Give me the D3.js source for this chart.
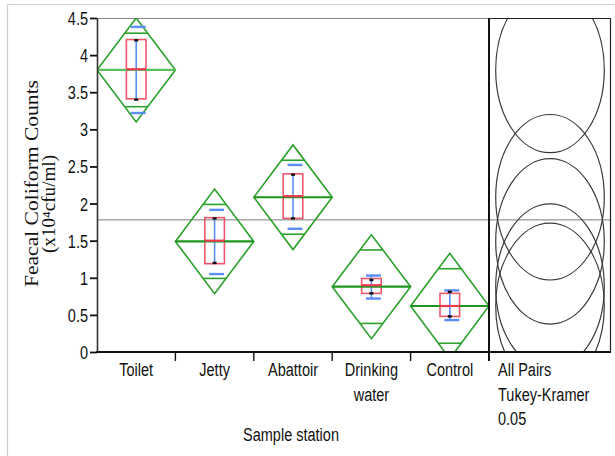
<!DOCTYPE html>
<html>
<head>
<meta charset="utf-8">
<script src="https://cdn.jsdelivr.net/npm/d3@7"></script>
<style>
  html, body { margin: 0; padding: 0; background: #fff; }
  svg { display: block; }
</style>
</head>
<body>
<svg id="chart" width="615" height="456"></svg>
<script>
// ---------------- data ----------------
const categories   = ["Toilet", "Jetty", "Abattoir", "Drinking water", "Control"];
const catLines     = [["Toilet"], ["Jetty"], ["Abattoir"], ["Drinking", "water"], ["Control"]];
const means        = [3.80, 1.49, 2.085, 0.88, 0.62];
const ciHalf       = [0.70, 0.705, 0.705, 0.70, 0.71];
const boxQ1        = [3.41, 1.19, 1.80, 0.79, 0.48];
const boxMedian    = [3.81, 1.50, 2.10, 0.90, 0.62];
const boxQ3        = [4.21, 1.81, 2.40, 0.99, 0.79];
const barLow       = [3.40, 1.20, 1.80, 0.72, 0.43];
const barHigh      = [4.21, 1.80, 2.39, 1.03, 0.83];
const sdLow        = [3.22, 1.05, 1.66, 0.72, 0.43];
const sdHigh       = [4.38, 1.915, 2.52, 1.03, 0.83];
const pointsLow    = [3.40, 1.20, 1.80, 0.79, 0.48];
const pointsHigh   = [4.20, 1.80, 2.39, 0.97, 0.81];
const grandMean    = 1.78;
const circleRadius = 1.115;  // comparison-circle radius in data units
const yTicks       = [0, 0.5, 1, 1.5, 2, 2.5, 3, 3.5, 4, 4.5];
const yTickLabels  = ["0", "0.5", "1", "1.5", "2", "2.5", "3", "3.5", "4", "4.5"];
const yTitle       = ["Feacal Coliform Counts", "(x10\u2074cfu/ml)"];
const xTitle       = "Sample station";
const panelLabel   = ["All Pairs", "Tukey-Kramer", "0.05"];

// ---------------- layout ----------------
const L = 97, R = 489, PR = 611, T = 18, B = 352;
const SANS = "'Liberation Sans', Arial, sans-serif";
const SERIF = "'Liberation Serif', 'Times New Roman', serif";
const SX = 0.88, SY = 1.1;
const GREEN = "#2ba02b", GREEN_D = "#1f951f", RED = "#ee3a52", BLUE = "#5b8df7";

const svg = d3.select("#chart");

// outer frame
svg.append("line").attr("x1", 7).attr("x2", 615).attr("y1", 4.5).attr("y2", 4.5)
  .attr("stroke", "#cfcfcf").attr("stroke-width", 1.2);
svg.append("line").attr("x1", 7.5).attr("x2", 7.5).attr("y1", 4).attr("y2", 456)
  .attr("stroke", "#cfcfcf").attr("stroke-width", 1.2);

const y = d3.scaleLinear().domain([0, 4.5]).range([B, T]);
const x = d3.scaleBand().domain(categories).range([L, R]).padding(0);
const bw = x.bandwidth();

const defs = svg.append("defs");
defs.append("clipPath").attr("id", "plotClip").append("rect")
  .attr("x", L).attr("y", T).attr("width", R - L).attr("height", B - T);
defs.append("clipPath").attr("id", "panelClip").append("rect")
  .attr("x", R).attr("y", T).attr("width", PR - R).attr("height", B - T);

// top border
svg.append("line").attr("x1", L).attr("x2", PR).attr("y1", T + 0.5).attr("y2", T + 0.5)
  .attr("stroke", "#8a8a8a").attr("stroke-width", 1);

// grand mean
svg.append("line").attr("x1", L).attr("x2", PR).attr("y1", y(grandMean)).attr("y2", y(grandMean))
  .attr("stroke", "#7a7a7a").attr("stroke-width", 1);

const plot = svg.append("g").attr("clip-path", "url(#plotClip)");

categories.forEach((c, i) => {
  const x0 = x(c), x1 = x0 + bw, cx = x0 + bw / 2;
  const m = means[i], h = ciHalf[i];
  // diamond
  plot.append("path")
    .attr("d", `M${x0},${y(m)}L${cx},${y(m + h)}L${x1},${y(m)}L${cx},${y(m - h)}Z`)
    .attr("fill", "none").attr("stroke", GREEN).attr("stroke-width", 1.6);
  // overlap marks
  const ov = h / Math.SQRT2;
  const ow = bw * (1 - 1 / Math.SQRT2) / 2;
  [m + ov, m - ov].forEach(v => {
    plot.append("line").attr("x1", cx - ow).attr("x2", cx + ow)
      .attr("y1", y(v)).attr("y2", y(v))
      .attr("stroke", GREEN).attr("stroke-width", 1.6);
  });
  // box
  const boxW = bw * 0.25;
  plot.append("rect")
    .attr("x", cx - boxW / 2).attr("width", boxW)
    .attr("y", y(boxQ3[i])).attr("height", y(boxQ1[i]) - y(boxQ3[i]))
    .attr("fill", "none").attr("stroke", RED).attr("stroke-opacity", 0.85).attr("stroke-width", 1.6);
  // blue bar
  plot.append("line").attr("x1", cx).attr("x2", cx)
    .attr("y1", y(barHigh[i])).attr("y2", y(barLow[i]))
    .attr("stroke", BLUE).attr("stroke-width", 1.6);
  // blue sd caps
  const capW = bw * 0.19;
  [sdHigh[i], sdLow[i]].forEach(v => {
    plot.append("line").attr("x1", cx + 2 - capW / 2).attr("x2", cx + 2 + capW / 2)
      .attr("y1", y(v)).attr("y2", y(v))
      .attr("stroke", BLUE).attr("stroke-width", 2.4);
  });
  // mean line
  plot.append("line").attr("x1", x0).attr("x2", x1).attr("y1", y(m)).attr("y2", y(m))
    .attr("stroke", i === 0 ? "#5cbf5c" : GREEN_D).attr("stroke-width", 2.2);
  // median line
  plot.append("line").attr("x1", cx - boxW / 2).attr("x2", cx + boxW / 2)
    .attr("y1", y(boxMedian[i])).attr("y2", y(boxMedian[i]))
    .attr("stroke", RED).attr("stroke-width", 2.2);
  // data points
  [pointsHigh[i], pointsLow[i]].forEach(v => {
    plot.append("rect").attr("x", cx - 2).attr("y", y(v) - 1.2)
      .attr("width", 4).attr("height", 2.4).attr("fill", "#111");
  });
});

// comparison circles
const panel = svg.append("g").attr("clip-path", "url(#panelClip)");
const pcx = (R + PR) / 2;
const rx = (PR - R) * 0.445;
const ry = y(0) - y(circleRadius);
means.forEach(m => {
  panel.append("ellipse").attr("cx", pcx).attr("cy", y(m)).attr("rx", rx).attr("ry", ry)
    .attr("fill", "none").attr("stroke", "#3a3a3a").attr("stroke-width", 1.2);
});

// panel borders
svg.append("line").attr("x1", PR - 0.5).attr("x2", PR - 0.5).attr("y1", T).attr("y2", B)
  .attr("stroke", "#222").attr("stroke-width", 1.2);
svg.append("line").attr("x1", R).attr("x2", PR).attr("y1", T + 0.5).attr("y2", T + 0.5)
  .attr("stroke", "#222").attr("stroke-width", 1.2);

// y axis
const yAxis = d3.axisLeft(y).tickValues(yTicks).tickSize(7).tickSizeOuter(0)
  .tickFormat((d, i) => yTickLabels[i]);
const ya = svg.append("g").attr("transform", `translate(${L},0)`).call(yAxis);
ya.select(".domain").attr("stroke", "#333").attr("stroke-width", 1.6);
ya.selectAll(".tick line").attr("stroke", "#111").attr("stroke-width", 1.8);
ya.selectAll(".tick text")
  .attr("font-family", SANS).attr("font-size", 16.5).attr("fill", "#111")
  .attr("transform", `scale(${SX},${SY})`).attr("x", -9 / SX).attr("y", 0).attr("dy", "0.36em");

// x axis line + ticks
svg.append("line").attr("x1", L - 1).attr("x2", PR).attr("y1", B).attr("y2", B)
  .attr("stroke", "#111").attr("stroke-width", 2);
const boundaries = categories.slice(1).map(c => x(c)).concat([R]);
boundaries.forEach((bx, i) => {
  const last = i === boundaries.length - 1;
  svg.append("line").attr("x1", bx).attr("x2", bx).attr("y1", last ? T : B).attr("y2", B + 9)
    .attr("stroke", "#111").attr("stroke-width", last ? 2 : 1.4);
});

function sansText(txt, tx, ty, anchor) {
  svg.append("text").text(txt)
    .attr("transform", `translate(${tx},${ty}) scale(${SX},${SY})`)
    .attr("text-anchor", anchor).attr("font-family", SANS).attr("font-size", 16.5)
    .attr("fill", "#111");
}

// category labels
catLines.forEach((lines, i) => {
  const cx = x(categories[i]) + bw / 2;
  lines.forEach((ln, j) => sansText(ln, cx, 376 + j * 25, "middle"));
});
sansText(xTitle, (L + R) / 2 - 2, 441, "middle");
panelLabel.forEach((ln, j) => sansText(ln, 498, 376 + j * 24.5, "start"));

// y title
const yt = [[37.5, 183.5, 207], [54.5, 204, 98]];
yTitle.forEach((ln, j) => {
  svg.append("text").text(ln)
    .attr("transform", `translate(${yt[j][0]},${yt[j][1]}) rotate(-90)`)
    .attr("text-anchor", "middle")
    .attr("font-family", SERIF).attr("font-size", 18).attr("fill", "#111")
    .attr("textLength", yt[j][2]).attr("lengthAdjust", "spacingAndGlyphs");
});
</script>
</body>
</html>
